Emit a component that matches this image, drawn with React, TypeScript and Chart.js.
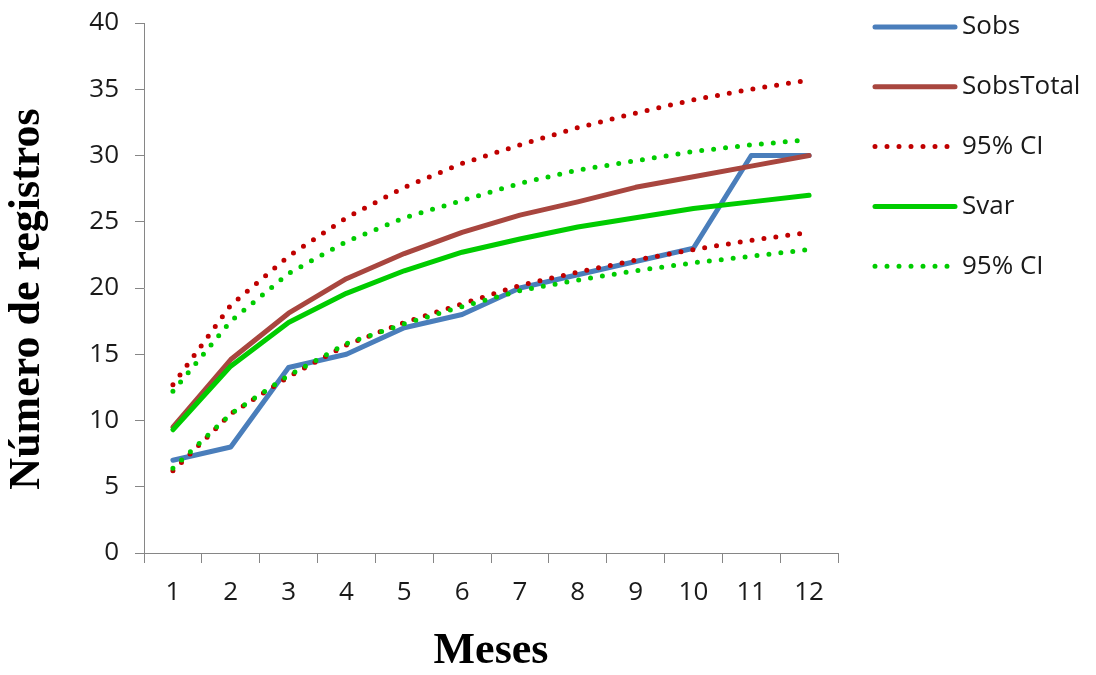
import React, { useEffect, useRef } from 'react';
import { Chart, registerables } from 'chart.js';

Chart.register(...registerables);

const months = ['1', '2', '3', '4', '5', '6', '7', '8', '9', '10', '11', '12'];
const yTicks = [0, 5, 10, 15, 20, 25, 30, 35, 40];

const sobs = [7, 8, 14, 15, 17, 18, 20, 21, 22, 23, 30, 30];
const sobsTotal = [9.5, 14.6, 18.1, 20.7, 22.6, 24.2, 25.5, 26.5, 27.6, 28.4, 29.2, 30];
const sobsCiUpper = [12.7, 18.7, 22.4, 25.3, 27.6, 29.4, 30.8, 32.1, 33.2, 34.2, 35.0, 35.7];
const sobsCiLower = [6.2, 10.5, 13.3, 15.7, 17.4, 18.8, 20.2, 21.2, 22.1, 22.9, 23.6, 24.2];
const svar = [9.3, 14.1, 17.4, 19.6, 21.3, 22.7, 23.7, 24.6, 25.3, 26.0, 26.5, 27.0];
const svarCiUpper = [12.2, 17.5, 21.1, 23.5, 25.3, 26.6, 27.9, 28.9, 29.6, 30.3, 30.8, 31.2];
const svarCiLower = [6.4, 10.5, 13.4, 15.8, 17.3, 18.6, 19.8, 20.6, 21.3, 21.9, 22.4, 22.9];

const BLUE = '#4A7EBB';
const BROWN = '#A8463F';
const RED = '#C00000';
const GREEN = '#00CC00';
const AXIS = '#868686';
const TEXT = '#1a1a1a';
const SANS = '"Open Sans", sans-serif';
const SERIF = '"Liberation Serif", "Times New Roman", serif';

const legendPlugin = {
  id: 'sideLegend',
  afterDraw(chart: any) {
    const ctx = chart.ctx;
    const area = chart.chartArea;
    const items = chart.data.datasets.filter((d: any) => d.showInLegend);
    const x0 = area.right + 37;
    const x1 = x0 + 80;
    ctx.save();
    items.forEach((ds: any, i: number) => {
      const y = 27 + i * 59.8;
      ctx.beginPath();
      ctx.strokeStyle = ds.borderColor;
      ctx.lineWidth = ds.borderWidth;
      ctx.lineCap = 'round';
      ctx.setLineDash(ds.borderDash || []);
      ctx.moveTo(x0, y);
      ctx.lineTo(x1, y);
      ctx.stroke();
      ctx.setLineDash([]);
      ctx.fillStyle = TEXT;
      ctx.font = `26px ${SANS}`;
      ctx.textBaseline = 'middle';
      ctx.textAlign = 'left';
      ctx.fillText(ds.label, x1 + 7, y);
    });
    ctx.restore();
  },
};

function solid(label: string, data: number[], color: string, order: number) {
  return {
    label,
    data,
    borderColor: color,
    backgroundColor: color,
    borderWidth: 5,
    pointRadius: 0,
    tension: 0,
    fill: false,
    borderCapStyle: 'round',
    borderJoinStyle: 'round',
    showInLegend: true,
    order,
  };
}

function dotted(label: string, data: number[], color: string, order: number, legend: boolean) {
  return {
    label,
    data,
    borderColor: color,
    backgroundColor: color,
    borderWidth: 5,
    borderDash: [0, 12],
    borderCapStyle: 'round',
    pointRadius: 0,
    tension: 0,
    fill: false,
    showInLegend: legend,
    order,
  };
}

export default function App() {
  const ref = useRef<HTMLCanvasElement | null>(null);

  useEffect(() => {
    if (!ref.current) return;
    const chart = new Chart(ref.current, {
      type: 'line',
      data: {
        labels: months,
        datasets: [
          solid('Sobs', sobs, BLUE, 7),
          solid('SobsTotal', sobsTotal, BROWN, 6),
          dotted('95% CI', sobsCiUpper, RED, 5, true),
          dotted('95% CI', sobsCiLower, RED, 4, false),
          solid('Svar', svar, GREEN, 3),
          dotted('95% CI', svarCiUpper, GREEN, 2, true),
          dotted('95% CI', svarCiLower, GREEN, 1, false),
        ] as any,
      },
      options: {
        responsive: false,
        animation: false,
        layout: { padding: { top: 23, right: 258, bottom: 0, left: 0 } },
        plugins: {
          legend: { display: false },
          tooltip: { enabled: false },
        },
        scales: {
          x: {
            type: 'category',
            offset: true,
            grid: {
              offset: true,
              drawOnChartArea: false,
              drawTicks: true,
              tickLength: 10,
              color: AXIS,
            },
            border: { display: true, color: AXIS, width: 1 },
            ticks: {
              color: TEXT,
              font: { family: SANS, size: 26 },
              padding: 14,
              maxRotation: 0,
              autoSkip: false,
            },
            title: {
              display: true,
              text: 'Meses',
              color: '#000',
              font: { family: SERIF, size: 44, weight: 'bold', lineHeight: 1 },
              padding: { top: 0, bottom: 1 },
            },
            afterFit(scale: any) {
              scale.height = 122;
              scale.paddingLeft = 0;
              scale.paddingRight = 0;
            },
          },
          y: {
            min: 0,
            max: 40,
            afterBuildTicks(scale: any) {
              scale.ticks = yTicks.map((v) => ({ value: v }));
            },
            grid: {
              drawOnChartArea: false,
              drawTicks: true,
              tickLength: 9,
              color: AXIS,
            },
            border: { display: true, color: AXIS, width: 1 },
            ticks: {
              color: TEXT,
              font: { family: SANS, size: 26 },
              padding: 16,
            },
            title: {
              display: true,
              text: 'Número de registros  ',
              color: '#000',
              font: { family: SERIF, size: 44, weight: 'bold', lineHeight: 1 },
              padding: { top: 6, bottom: 0 },
            },
            afterFit(scale: any) {
              scale.width = 144;
              scale.paddingTop = 0;
              scale.paddingBottom = 0;
            },
          },
        },
      } as any,
      plugins: [legendPlugin],
    });
    return () => chart.destroy();
  }, []);

  return (
    <div style={{ position: 'fixed', left: 0, top: 0, width: 1096, height: 675, background: '#fff' }}>
      <canvas ref={ref} width={1096} height={675} style={{ display: 'block' }} />
    </div>
  );
}
